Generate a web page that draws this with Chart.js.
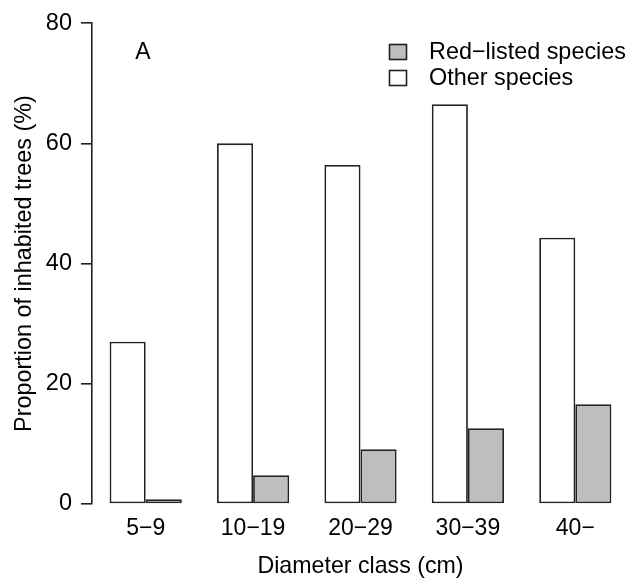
<!DOCTYPE html>
<html>
<head>
<meta charset="utf-8">
<script src="https://cdn.jsdelivr.net/npm/chart.js@4/dist/chart.umd.min.js"></script>
<style>
  html, body { margin: 0; padding: 0; background: #fff; overflow: hidden; }
  #wrap { position: relative; width: 629px; height: 578px; }
</style>
</head>
<body>
<div id="wrap"><canvas id="c" width="629" height="578"></canvas></div>
<script>
const categories = ["5\u22129", "10\u221219", "20\u221229", "30\u221239", "40\u2212"];
const otherSpecies = [27.0, 60.0, 56.4, 66.5, 44.3];
const redListed = [0.8, 4.8, 9.1, 12.6, 16.6];
const yTicks = [0, 20, 40, 60, 80];
const seriesNames = ["Other species", "Red\u2212listed species"];
const panelLabel = "A";

const FONT = "'Liberation Sans', Arial, Helvetica, sans-serif";
const TXT = "#000";
const EDGE = "#222";

const legendPlugin = {
  id: 'rLegend',
  afterDraw(chart) {
    const ctx = chart.ctx;
    const ca = chart.chartArea;
    ctx.save();
    // panel label
    ctx.font = "23px " + FONT;
    ctx.fillStyle = TXT;
    ctx.textAlign = "center";
    ctx.textBaseline = "middle";
    ctx.fillText(panelLabel, ca.left + 51, 53);
    // legend (reverse order: red-listed first)
    const ds = chart.data.datasets.slice().reverse();
    const rows = [52, 78];
    ds.forEach((d, i) => {
      const y = rows[i];
      ctx.fillStyle = d.backgroundColor;
      ctx.fillRect(389.5, y - 7.5, 17, 15);
      ctx.strokeStyle = EDGE;
      ctx.lineWidth = 1.6;
      ctx.strokeRect(389.5, y - 7.5, 17, 15);
      ctx.fillStyle = TXT;
      ctx.textAlign = "left";
      ctx.textBaseline = "middle";
      ctx.font = "23.4px " + FONT;
      ctx.fillText(d.label, 429, y + 1);
    });
    ctx.restore();
  }
};

new Chart(document.getElementById('c'), {
  type: 'bar',
  data: {
    labels: categories,
    datasets: [
      { label: seriesNames[0], data: otherSpecies, backgroundColor: "#ffffff", borderColor: EDGE, borderWidth: 1.8, borderSkipped: false },
      { label: seriesNames[1], data: redListed, backgroundColor: "#bebebe", borderColor: EDGE, borderWidth: 1.8, borderSkipped: false }
    ]
  },
  options: {
    responsive: false,
    animation: false,
    devicePixelRatio: 1,
    layout: { padding: { top: 22, right: 0, left: 0, bottom: 0 } },
    datasets: { bar: { categoryPercentage: 0.672, barPercentage: 1.0 } },
    plugins: { legend: { display: false }, tooltip: { enabled: false } },
    scales: {
      x: {
        grid: { display: false, drawTicks: false },
        border: { display: false },
        ticks: { color: TXT, font: { family: FONT, size: 23 }, padding: 11 },
        title: { display: true, text: "Diameter class (cm)", color: TXT, font: { family: FONT, size: 23.2, lineHeight: 1.0 }, padding: 0 },
        afterFit(scale) { scale.height = 74; }
      },
      y: {
        min: 0, max: 80,
        afterBuildTicks(scale) { scale.ticks = yTicks.map(v => ({ value: v })); },
        grid: { drawOnChartArea: false, drawTicks: true, tickLength: 11, color: EDGE, lineWidth: 1.6 },
        border: { display: true, color: EDGE, width: 1.6 },
        ticks: { color: TXT, font: { family: FONT, size: 23.5 }, padding: 9 },
        title: { display: true, text: "Proportion of inhabited trees (%)", color: TXT, font: { family: FONT, size: 23.4, lineHeight: 1.2 }, padding: { top: 11, bottom: 0 } },
        afterFit(scale) { scale.width = 92; }
      }
    }
  },
  plugins: [legendPlugin]
});
</script>
</body>
</html>
